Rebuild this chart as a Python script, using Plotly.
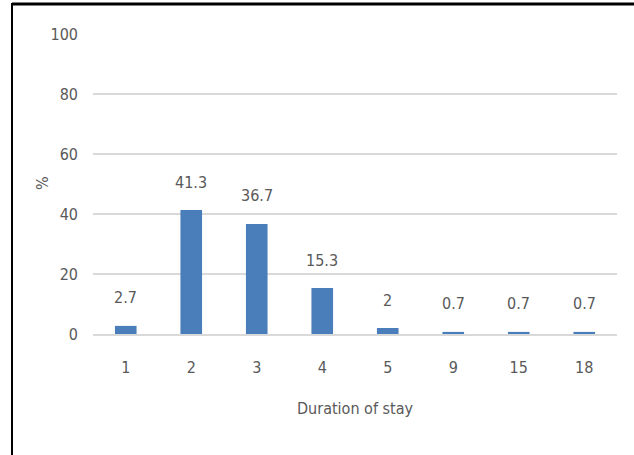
import plotly.graph_objects as go

# Length of stay distribution (percent of patients)
durations = ["1", "2", "3", "4", "5", "9", "15", "18"]
percent = [2.7, 41.3, 36.7, 15.3, 2, 0.7, 0.7, 0.7]
y_ticks = [0, 20, 40, 60, 80, 100]

W, H = 634, 455
L, R, T, B = 93, 17, 34, 121
pw, ph = W - L - R, H - T - B

FONT = "Liberation Sans Narrow, DejaVu Sans Condensed, Roboto Condensed, sans-serif"
GREY = "#595959"
BAR = "#4a7ebb"
GRID = "#d9d9d9"

def px_x(x):
    return (x - L) / pw

def px_y(y):
    return (H - B - y) / ph

fig = go.Figure(go.Bar(
    x=durations, y=percent, marker=dict(color=BAR, line=dict(width=0)),
    hoverinfo="x+y",
))

# value labels sit above each bar (category index positions)
annotations = [
    dict(x=i, y=v, xref="x", yref="y", text=str(v), showarrow=False,
         yanchor="middle", yshift=28, font=dict(family=FONT, size=16, color=GREY))
    for i, v in enumerate(percent)
]
annotations.append(dict(x=0.5, y=px_y(408), xref="paper", yref="paper",
                        text="Duration of stay", showarrow=False,
                        xanchor="center", yanchor="middle",
                        font=dict(family=FONT, size=16, color=GREY)))
annotations.append(dict(x=px_x(42), y=px_y(183), xref="paper", yref="paper",
                        text="%", showarrow=False, textangle=-90,
                        xanchor="center", yanchor="middle",
                        font=dict(family=FONT, size=16, color=GREY)))

shapes = [
    # frame: top and left edges
    dict(type="line", xref="paper", yref="paper", x0=px_x(12), x1=px_x(640),
         y0=px_y(4), y1=px_y(4), line=dict(color="black", width=3)),
    dict(type="line", xref="paper", yref="paper", x0=px_x(12), x1=px_x(12),
         y0=px_y(3), y1=px_y(460), line=dict(color="black", width=2)),
]

fig.update_layout(
    width=W, height=H,
    margin=dict(l=L, r=R, t=T, b=B),
    plot_bgcolor="white", paper_bgcolor="white",
    bargap=0.67, showlegend=False,
    annotations=annotations, shapes=shapes,
    font=dict(family=FONT, size=16, color=GREY),
    xaxis=dict(type="category", range=[-0.5, len(durations) - 0.5],
               showgrid=False, showline=True, linecolor=GRID,
               linewidth=2, ticks="", ticklabelstandoff=18,
               tickfont=dict(family=FONT, size=16, color=GREY), fixedrange=True),
    yaxis=dict(range=[0, 100], tickvals=y_ticks, showgrid=True, gridcolor=GRID,
               gridwidth=2, zeroline=False, showline=False, ticks="",
               ticklabelstandoff=14,
               tickfont=dict(family=FONT, size=16, color=GREY), fixedrange=True),
)

fig.write_html("out.html")
